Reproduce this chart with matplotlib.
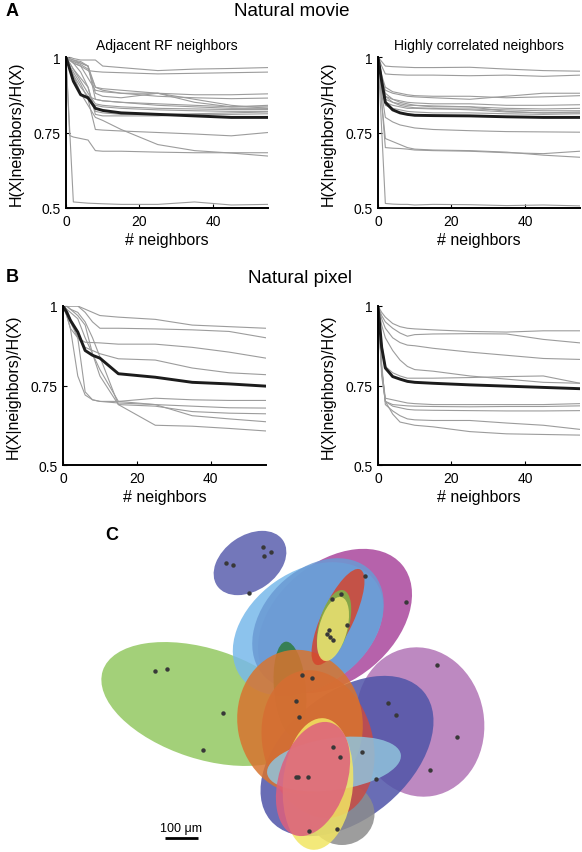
import matplotlib
matplotlib.use("Agg")
import matplotlib.pyplot as plt
from matplotlib.patches import Ellipse

plt.rcParams["font.family"] = ["Liberation Sans", "DejaVu Sans"]

W, H = 582, 853

# number of neighbors (shared x grid for every curve)
nb = [0, 1, 2, 4, 6, 8, 10, 15, 25, 35, 45, 55]

# A: natural movie, adjacent RF neighbors
a_adj = [
    [1, 1, .995, .99, .99, .99, .97, .965, .955, .96, .962, .965],
    [1, .99, .98, .97, .955, .952, .95, .948, .944, .946, .948, .95],
    [1, .99, .98, .97, .93, .89, .885, .88, .88, .875, .875, .878],
    [1, .995, .99, .98, .97, .90, .89, .88, .87, .865, .862, .864],
    [1, .99, .985, .98, .97, .88, .87, .865, .88, .85, .835, .84],
    [1, .97, .94, .90, .87, .86, .855, .85, .845, .84, .835, .835],
    [1, .98, .96, .92, .88, .845, .84, .835, .83, .828, .826, .826],
    [1, .97, .95, .91, .86, .84, .835, .83, .825, .822, .82, .82],
    [1, .99, .98, .95, .90, .82, .815, .81, .81, .812, .815, .818],
    [1, .98, .96, .93, .90, .81, .805, .805, .805, .81, .81, .812],
    [1, .99, .985, .975, .96, .90, .895, .89, .88, .86, .84, .83],
    [1, .995, .99, .985, .97, .86, .855, .85, .84, .835, .83, .83],
    [1, .97, .94, .88, .86, .76, .758, .755, .75, .745, .739, .75],
    [1, .74, .735, .73, .725, .69, .688, .688, .685, .683, .683, .683],
    [1, .96, .93, .88, .84, .80, .79, .76, .71, .69, .682, .672],
    [1, .76, .52, .518, .516, .515, .514, .512, .512, .52, .51, .512],
]
a_adj_mean = [1, .96, .92, .875, .865, .83, .823, .815, .81, .805, .80, .80]

# A: natural movie, highly correlated neighbors
a_cor = [
    [1, .985, .97, .968, .967, .966, .965, .965, .966, .96, .955, .953],
    [1, .97, .944, .942, .941, .94, .94, .94, .938, .94, .936, .94],
    [1, .93, .89, .88, .875, .87, .868, .865, .86, .87, .88, .88],
    [1, .94, .90, .885, .88, .875, .872, .87, .87, .865, .868, .872],
    [1, .92, .87, .86, .855, .85, .848, .845, .845, .84, .84, .842],
    [1, .91, .86, .85, .845, .84, .84, .838, .835, .83, .828, .83],
    [1, .90, .85, .84, .835, .83, .83, .828, .828, .825, .822, .822],
    [1, .92, .87, .85, .84, .835, .832, .83, .825, .818, .815, .818],
    [1, .90, .84, .83, .825, .82, .818, .815, .815, .812, .81, .812],
    [1, .93, .88, .86, .85, .845, .84, .835, .835, .82, .815, .815],
    [1, .88, .80, .785, .775, .77, .765, .76, .756, .753, .752, .751],
    [1, .85, .73, .72, .71, .70, .695, .692, .69, .685, .675, .668],
    [1, .85, .70, .698, .697, .695, .692, .69, .688, .683, .68, .688],
    [1, .76, .515, .513, .512, .512, .51, .512, .511, .508, .51, .507],
]
a_cor_mean = [1, .92, .85, .825, .815, .81, .807, .806, .805, .802, .80, .80]

# B: natural pixel, adjacent RF neighbors
b_adj = [
    [1, 1, 1, 1, .99, .98, .97, .965, .958, .94, .935, .93],
    [1, 1, 1, 1, .98, .95, .93, .93, .928, .925, .92, .90],
    [1, .97, .93, .90, .886, .885, .884, .88, .88, .87, .855, .836],
    [1, .98, .95, .90, .87, .86, .85, .834, .83, .805, .79, .784],
    [1, .99, .96, .90, .73, .705, .70, .70, .71, .705, .703, .703],
    [1, .97, .93, .78, .72, .705, .70, .695, .69, .685, .68, .679],
    [1, 1, .99, .97, .94, .85, .78, .69, .685, .668, .663, .661],
    [1, .99, .98, .96, .90, .85, .80, .70, .69, .655, .645, .636],
    [1, 1, .99, .98, .95, .90, .84, .69, .625, .622, .615, .607],
]
b_adj_mean = [1, .98, .955, .918, .86, .845, .836, .787, .776, .76, .755, .748]

# B: natural pixel, highly correlated neighbors
b_cor = [
    [1, .98, .965, .945, .935, .93, .928, .925, .92, .918, .922, .922],
    [1, .97, .95, .93, .915, .905, .91, .912, .913, .912, .895, .884],
    [1, .96, .93, .90, .885, .877, .875, .867, .855, .845, .835, .832],
    [1, .94, .90, .86, .83, .81, .80, .795, .78, .77, .76, .757],
    [1, .88, .81, .79, .78, .773, .773, .773, .775, .778, .78, .757],
    [1, .80, .71, .705, .70, .695, .693, .69, .69, .69, .69, .693],
    [1, .80, .70, .69, .688, .686, .685, .684, .683, .684, .684, .686],
    [1, .78, .70, .685, .68, .675, .673, .672, .671, .67, .67, .671],
    [1, .82, .69, .67, .655, .645, .642, .64, .64, .632, .625, .612],
    [1, .80, .70, .66, .635, .63, .625, .62, .605, .598, .596, .594],
]
b_cor_mean = [1, .87, .805, .778, .77, .763, .76, .757, .752, .748, .744, .74]

# C: receptive field ellipses (pixel units, 33 px = 100 um)
ell_x = [205, 335, 308, 318, 420, 347, 342, 290, 318, 300, 338, 334, 333, 334, 318, 313, 250]
ell_y = [705, 622, 630, 625, 723, 757, 815, 690, 745, 723, 618, 626, 630, 765, 785, 780, 564]
ell_w = [215, 175, 165, 150, 128, 200, 65, 32, 110, 125, 32, 30, 28, 135, 70, 68, 80]
ell_h = [110, 118, 115, 110, 150, 125, 62, 95, 150, 145, 105, 72, 66, 52, 132, 118, 55]
ell_ang = [-18, 40, 35, 45, 10, 40, 0, 5, 15, 10, -25, -15, -15, 8, -5, -18, 35]
ell_col = ["#93c862", "#a9479c", "#78b9ea", "#6a9ad4", "#b274b6", "#4f54a8",
           "#8c8c8c", "#2e7a3d", "#c84b45", "#d8742f", "#d4452e", "#7ab648",
           "#ece272", "#90c3dc", "#f2e663", "#dd5f7d", "#5a5fae"]

# RF centers of recorded cells
cell_x = [263.3, 271.3, 263.7, 225.7, 232.7, 249.3, 365, 406, 340.7, 331.7, 346.7,
          329.3, 327.3, 330, 333.3, 436.7, 302.3, 311.7, 388, 395.7, 296.3, 299,
          457, 332.7, 340, 362, 430, 295.7, 298.3, 308.3, 375.7, 309, 337.3,
          155.3, 167.3, 223.3, 202.7]
cell_y = [547.7, 552.7, 556.7, 563.7, 565.7, 593.7, 576.7, 603.3, 595, 600, 626,
          630.7, 635, 638.3, 641, 666, 675.7, 679, 704, 715.7, 701.7, 718,
          737.7, 748.3, 757.7, 752.7, 771.3, 778.3, 777.7, 777.7, 779.7, 831.7, 830,
          672.3, 670.3, 714, 751.3]


def fx(x):
    return x / W


def fy(y):
    return 1 - y / H


fig = plt.figure(figsize=(W / 100, H / 100), dpi=100)


def panel(left, right, top, bottom, curves, mean, title=None):
    ax = fig.add_axes([fx(left), fy(bottom), fx(right - left), (bottom - top) / H])
    for c in curves:
        ax.plot(nb, c, color="#9c9c9c", lw=0.8)
    ax.plot(nb, mean, color="#1c1c1c", lw=2.1)
    ax.set_xlim(0, 55)
    ax.set_ylim(0.5, 1)
    ax.set_xticks([0, 20, 40])
    ax.set_yticks([0.5, 0.75, 1])
    ax.set_yticklabels(["0.5", "0.75", "1"])
    for s in ["top", "right"]:
        ax.spines[s].set_visible(False)
    for s in ["left", "bottom"]:
        ax.spines[s].set_linewidth(1.4)
    ax.tick_params(direction="in", length=3, width=0.8, labelsize=10, pad=4)
    ax.set_xlabel("# neighbors", fontsize=11.5, labelpad=3)
    ax.set_ylabel("H(X|neighbors)/H(X)", fontsize=11.5, labelpad=7)
    if title:
        ax.set_title(title, fontsize=10, pad=6)
    return ax


panel(66, 268, 58, 209, a_adj, a_adj_mean, "Adjacent RF neighbors")
panel(378, 580, 58, 209, a_cor, a_cor_mean, "Highly correlated neighbors")
panel(63, 266, 307, 466, b_adj, b_adj_mean)
panel(378, 580, 307, 466, b_cor, b_cor_mean)

fig.text(fx(12), fy(12), "A", fontsize=13, fontweight="bold", ha="center", va="center")
fig.text(fx(292), fy(12), "Natural movie", fontsize=13.5, ha="center", va="center")
fig.text(fx(12), fy(278), "B", fontsize=13, fontweight="bold", ha="center", va="center")
fig.text(fx(300), fy(279), "Natural pixel", fontsize=13.5, ha="center", va="center")
fig.text(fx(112), fy(535), "C", fontsize=13, fontweight="bold", ha="center", va="center")

# panel C in pixel coordinates
axc = fig.add_axes([0, 0, 1, 1 - 520 / H])
axc.set_xlim(0, W)
axc.set_ylim(H, 520)
axc.axis("off")
for x, y, w, h, a, c in zip(ell_x, ell_y, ell_w, ell_h, ell_ang, ell_col):
    axc.add_patch(Ellipse((x, y), w, h, angle=-a, facecolor=c, edgecolor="none", alpha=0.85))
axc.plot(cell_x, cell_y, "o", color="#383838", ms=3.2, mec="none")

# scale bar
axc.plot([165, 198], [839, 839], color="black", lw=2, solid_capstyle="butt")
axc.text(181, 829, "100 μm", fontsize=9, ha="center", va="center")

fig.savefig("out.png", dpi=100)
